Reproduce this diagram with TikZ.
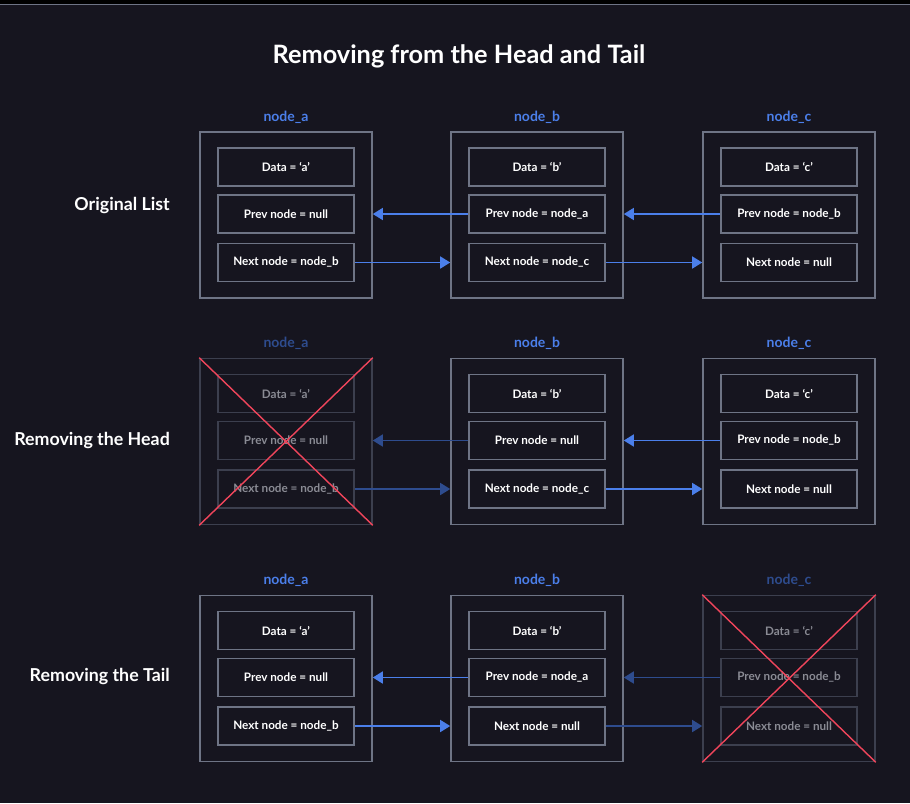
\documentclass[tikz,border=0pt]{standalone}
\usepackage{fontspec}
\setmainfont{Lato}
\usetikzlibrary{arrows.meta}
\definecolor{bg}{HTML}{16151F}
\definecolor{edge}{HTML}{6E7485}
\definecolor{fedge}{HTML}{3C3F4E}
\definecolor{blu}{HTML}{4B7FEA}
\definecolor{fblu}{HTML}{2E4C8E}
\definecolor{ftxt}{HTML}{8A8B94}
\definecolor{crossred}{HTML}{F0455B}
\tikzset{
  outerbox/.style={draw=edge, line width=1.6pt, minimum width=172pt, minimum height=166pt, inner sep=0pt},
  innerbox/.style={draw=edge, line width=1.6pt, minimum width=136pt, minimum height=38pt, inner sep=0pt, text=white, font=\fontsize{11.7}{13}\selectfont\bfseries},
  fouterbox/.style={outerbox, draw=fedge},
  finnerbox/.style={innerbox, draw=fedge, text=ftxt},
  namelbl/.style={text=blu, font=\fontsize{14}{16}\selectfont\bfseries},
  fnamelbl/.style={namelbl, text=fblu},
  rowlbl/.style={text=white, anchor=east, inner sep=0pt, font=\fontsize{17.8}{20}\selectfont\bfseries},
  link/.style={draw=blu, line width=1.6pt, -{Triangle[length=10pt,width=12pt]}},
  flink/.style={link, draw=fblu},
  crossline/.style={draw=crossred, line width=1.4pt},
}
% #1 name, #2 x, #3 y, #4 label, #5 data, #6 prev, #7 next, #8 prefix (empty or f)
\newcommand{\lnode}[8]{%
  \node[#8outerbox] (#1) at (#2,#3) {};
  \node[#8namelbl] (#1lbl) at (#2,#3-98) {#4};
  \node[#8innerbox] (#1d) at (#2,#3-48) {#5};
  \node[#8innerbox] (#1p) at (#2,#3-1) {#6};
  \node[#8innerbox] (#1n) at (#2,#3+47.5) {#7};
}
\begin{document}
\begin{tikzpicture}[x=1pt,y=-1pt]
\useasboundingbox (0,0) rectangle (910,803);
\fill[bg] (0,0) rectangle (910,803);
\fill[black] (0,0) rectangle (910,4);
\draw[edge, line width=1pt] (0,4.5) -- (910,4.5);
\node[text=white, font=\fontsize{25.3}{28}\selectfont\bfseries] (title) at (459,56) {Removing from the Head and Tail};

% Row 1
\node[rowlbl] (r1) at (170,205) {Original List};
\lnode{a1}{286}{215}{node\_a}{Data = ‘a’}{Prev node = null}{Next node = node\_b}{}
\lnode{b1}{537}{215}{node\_b}{Data = ‘b’}{Prev node = node\_a}{Next node = node\_c}{}
\lnode{c1}{789}{215}{node\_c}{Data = ‘c’}{Prev node = node\_b}{Next node = null}{}
\draw[link] (b1p.west) -- (a1.east |- b1p.west);
\draw[link] (a1n.east) -- (b1.west |- a1n.east);
\draw[link] (c1p.west) -- (b1.east |- c1p.west);
\draw[link] (b1n.east) -- (c1.west |- b1n.east);

% Row 2
\node[rowlbl] (r2) at (170,440) {Removing the Head};
\lnode{a2}{286}{441.5}{node\_a}{Data = ‘a’}{Prev node = null}{Next node = node\_b}{f}
\lnode{b2}{537}{441.5}{node\_b}{Data = ‘b’}{Prev node = null}{Next node = node\_c}{}
\lnode{c2}{789}{441.5}{node\_c}{Data = ‘c’}{Prev node = node\_b}{Next node = null}{}
\draw[flink] (b2p.west) -- (a2.east |- b2p.west);
\draw[flink] (a2n.east) -- (b2.west |- a2n.east);
\draw[link] (c2p.west) -- (b2.east |- c2p.west);
\draw[link] (b2n.east) -- (c2.west |- b2n.east);
\draw[crossline] (a2.north west) -- (a2.south east);
\draw[crossline] (a2.north east) -- (a2.south west);

% Row 3
\node[rowlbl] (r3) at (170,676) {Removing the Tail};
\lnode{a3}{286}{678.5}{node\_a}{Data = ‘a’}{Prev node = null}{Next node = node\_b}{}
\lnode{b3}{537}{678.5}{node\_b}{Data = ‘b’}{Prev node = node\_a}{Next node = null}{}
\lnode{c3}{789}{678.5}{node\_c}{Data = ‘c’}{Prev node = node\_b}{Next node = null}{f}
\draw[link] (b3p.west) -- (a3.east |- b3p.west);
\draw[link] (a3n.east) -- (b3.west |- a3n.east);
\draw[flink] (c3p.west) -- (b3.east |- c3p.west);
\draw[flink] (b3n.east) -- (c3.west |- b3n.east);
\draw[crossline] (c3.north west) -- (c3.south east);
\draw[crossline] (c3.north east) -- (c3.south west);
\end{tikzpicture}
\end{document}
